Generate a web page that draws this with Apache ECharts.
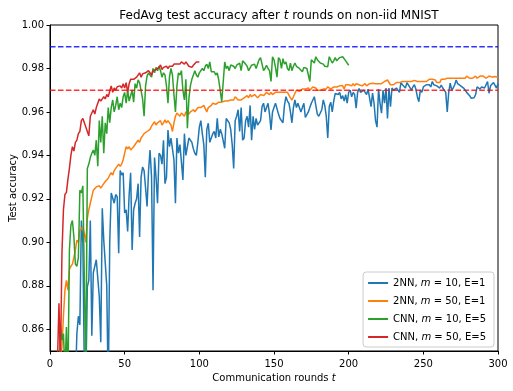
<!DOCTYPE html>
<html>
<head>
<meta charset="utf-8">
<script src="https://cdn.jsdelivr.net/npm/echarts@6.0.0/dist/echarts.min.js"></script>
<style>
html,body{margin:0;padding:0;background:#fff;}
#chart{width:513px;height:391px;}
</style>
</head>
<body>
<div id="chart"></div>
<script>
// Test accuracy per communication round (index 0 = round 1)
const blueAcc = [
0.40,0.55,0.62,0.68,0.70,0.74,0.72,0.77,0.76,0.80,
0.79,0.81,0.80,0.83,0.82,0.84,0.835,0.858,0.866,0.862,
0.910,0.900,0.840,0.835,0.8795,0.8825,0.910,0.857,0.886,0.889,
0.892,0.8925,0.875,0.854,0.9157,0.901,0.901,0.880,0.830,0.900,
0.9227,0.922,0.918,0.922,0.921,0.895,0.933,0.931,0.932,0.9135,
0.915,0.905,0.922,0.932,0.8965,0.915,0.918,0.920,0.927,0.9025,
0.930,0.9347,0.933,0.925,0.9165,0.933,0.9425,0.930,0.878,0.939,
0.930,0.918,0.941,0.940,0.936,0.947,0.927,0.930,0.9517,0.944,
0.948,0.943,0.938,0.918,0.948,0.941,0.945,0.937,0.9287,0.950,
0.940,0.944,0.948,0.9485,0.946,0.943,0.941,0.940,0.946,0.953,
0.956,0.950,0.945,0.930,0.952,0.9548,0.946,0.9455,0.950,0.951,
0.948,0.9571,0.9485,0.952,0.950,0.9495,0.9433,0.957,0.957,0.955,
0.952,0.945,0.934,0.956,0.958,0.961,0.951,0.962,0.947,0.948,
0.956,0.958,0.953,0.963,0.947,0.958,0.952,0.957,0.954,0.955,
0.956,0.9625,0.964,0.960,0.962,0.964,0.959,0.9517,0.960,0.962,
0.964,0.964,0.959,0.957,0.957,0.955,0.963,0.967,0.965,0.964,
0.960,0.955,0.962,0.9655,0.962,0.964,0.9645,0.960,0.962,0.964,
0.9575,0.957,0.960,0.962,0.964,0.9655,0.967,0.963,0.959,0.958,
0.958,0.961,0.9655,0.963,0.958,0.948,0.9625,0.9645,0.960,0.965,
0.9685,0.969,0.968,0.969,0.966,0.9675,0.965,0.968,0.964,0.969,
0.970,0.967,0.969,0.968,0.9617,0.969,0.9708,0.969,0.9685,0.970,
0.969,0.968,0.9705,0.9705,0.9624,0.9687,0.964,0.956,0.953,0.9705,
0.964,0.9594,0.970,0.964,0.971,0.957,0.971,0.9624,0.971,0.970,
0.9705,0.971,0.9716,0.969,0.9735,0.9725,0.9725,0.971,0.9735,0.9724,
0.972,0.970,0.9715,0.9725,0.9705,0.967,0.9647,0.970,0.969,0.9715,
0.971,0.9725,0.973,0.9725,0.9715,0.974,0.9725,0.9732,0.972,0.9725,
0.971,0.9724,0.971,0.970,0.969,0.960,0.969,0.9732,0.970,0.971,
0.9725,0.9747,0.973,0.9725,0.972,0.972,0.971,0.9705,0.969,0.9686,
0.9675,0.9663,0.9665,0.9665,0.968,0.9715,0.972,0.9705,0.9715,0.9716,
0.971,0.9705,0.974,0.9686,0.972,0.9725,0.9735,0.974,0.971,0.973
];
const orangeAcc = [
0.55,0.66,0.73,0.78,0.81,0.83,0.845,0.852,0.866,0.878,
0.8825,0.878,0.8875,0.889,0.890,0.893,0.8965,0.901,0.900,0.9055,
0.905,0.907,0.904,0.900,0.911,0.915,0.918,0.921,0.924,0.9235,
0.9255,0.925,0.926,0.925,0.926,0.927,0.928,0.9275,0.9295,0.931,
0.932,0.931,0.933,0.934,0.9347,0.936,0.935,0.936,0.938,0.941,
0.944,0.943,0.944,0.9425,0.942,0.944,0.945,0.945,0.947,0.946,
0.948,0.949,0.950,0.9495,0.951,0.9517,0.952,0.9535,0.953,0.9555,
0.954,0.955,0.955,0.956,0.954,0.955,0.9563,0.955,0.956,0.955,
0.954,0.951,0.955,0.958,0.9595,0.959,0.958,0.9595,0.9595,0.958,
0.960,0.9595,0.959,0.960,0.9605,0.961,0.960,0.961,0.962,0.9615,
0.962,0.9615,0.963,0.9615,0.960,0.962,0.962,0.963,0.964,0.964,
0.9635,0.964,0.9645,0.9647,0.9645,0.965,0.965,0.9655,0.965,0.9655,
0.9655,0.966,0.9655,0.967,0.967,0.9655,0.965,0.9655,0.966,0.9665,
0.966,0.9675,0.9665,0.968,0.967,0.967,0.968,0.968,0.9665,0.967,
0.968,0.968,0.9675,0.9675,0.969,0.9693,0.968,0.969,0.968,0.9685,
0.969,0.9685,0.969,0.9685,0.969,0.9685,0.969,0.9685,0.969,0.9693,
0.9665,0.9655,0.967,0.9685,0.970,0.970,0.9695,0.970,0.9705,0.970,
0.9705,0.970,0.971,0.970,0.9705,0.9715,0.971,0.971,0.970,0.9693,
0.970,0.970,0.9705,0.971,0.9705,0.9716,0.9715,0.9705,0.971,0.9715,
0.971,0.9715,0.9715,0.972,0.9715,0.972,0.9705,0.9725,0.972,0.9725,
0.9732,0.972,0.973,0.972,0.973,0.9725,0.9725,0.973,0.972,0.9725,
0.973,0.972,0.9725,0.973,0.973,0.9732,0.973,0.973,0.9725,0.973,
0.9735,0.973,0.9735,0.974,0.9745,0.9747,0.974,0.9725,0.972,0.9725,
0.973,0.9735,0.973,0.9735,0.974,0.974,0.9735,0.974,0.9745,0.974,
0.9735,0.974,0.974,0.9745,0.974,0.974,0.9735,0.974,0.9745,0.974,
0.9745,0.974,0.9745,0.975,0.9745,0.975,0.975,0.9747,0.9735,0.974,
0.9735,0.975,0.9745,0.975,0.9745,0.9755,0.975,0.9755,0.975,0.9755,
0.975,0.9755,0.9763,0.9755,0.975,0.9755,0.976,0.9755,0.9765,0.976,
0.9755,0.976,0.9755,0.9763,0.9765,0.9755,0.976,0.9765,0.976,0.9765,
0.976,0.9755,0.976,0.9765,0.976,0.976,0.9765,0.9763,0.9755,0.976
];
const greenAcc = [
0.50,0.62,0.70,0.76,0.80,0.83,0.862,0.855,0.858,0.840,
0.861,0.835,0.8965,0.908,0.910,0.9025,0.890,0.889,0.893,0.924,
0.9227,0.926,0.9255,0.840,0.934,0.936,0.939,0.941,0.9425,0.940,
0.947,0.935,0.956,0.946,0.958,0.941,0.955,0.950,0.962,0.955,
0.962,0.9655,0.960,0.963,0.967,0.961,0.964,0.962,0.967,0.969,
0.964,0.970,0.965,0.9655,0.970,0.9645,0.973,0.971,0.9747,0.9735,
0.974,0.966,0.958,0.972,0.9765,0.978,0.9785,0.976,0.980,0.978,
0.9805,0.979,0.981,0.979,0.976,0.978,0.977,0.972,0.964,0.976,
0.980,0.977,0.968,0.960,0.972,0.978,0.977,0.979,0.970,0.9655,
0.975,0.9525,0.966,0.972,0.975,0.977,0.979,0.977,0.976,0.978,
0.9775,0.980,0.979,0.981,0.982,0.980,0.983,0.9785,0.978,0.9785,
0.977,0.978,0.9747,0.975,0.9647,0.9647,0.983,0.980,0.981,0.979,
0.9816,0.9825,0.981,0.980,0.9815,0.981,0.9825,0.979,0.9835,0.9835,
0.982,0.981,0.979,0.979,0.9815,0.981,0.982,0.980,0.9805,0.984,
0.985,0.982,0.979,0.980,0.9815,0.980,0.979,0.974,0.9854,0.984,
0.9805,0.976,0.985,0.984,0.980,0.9845,0.982,0.983,0.980,0.979,
0.9825,0.979,0.981,0.9825,0.981,0.9805,0.980,0.9805,0.9785,0.9805,
0.981,0.980,0.977,0.974,0.984,0.984,0.9825,0.9854,0.984,0.984,
0.9825,0.982,0.982,0.981,0.981,0.9808,0.9854,0.985,0.9825,0.9835,
0.985,0.9835,0.984,0.985,0.9854,0.9854,0.986,0.9835,0.983,0.9815
];
const redAcc = [
0.60,0.72,0.78,0.82,0.845,0.872,0.845,0.895,0.915,0.922,
0.923,0.929,0.934,0.940,0.944,0.942,0.946,0.947,0.950,0.951,
0.956,0.957,0.955,0.955,0.951,0.949,0.958,0.9595,0.961,0.959,
0.962,0.964,0.966,0.965,0.966,0.967,0.966,0.968,0.967,0.9695,
0.972,0.969,0.971,0.970,0.9716,0.971,0.972,0.971,0.973,0.971,
0.9735,0.969,0.973,0.975,0.9755,0.975,0.9745,0.976,0.9765,0.978,
0.976,0.9775,0.977,0.978,0.9775,0.979,0.9785,0.977,0.979,0.9785,
0.9795,0.980,0.9805,0.9816,0.9795,0.9805,0.9805,0.981,0.980,0.981,
0.9815,0.981,0.982,0.9815,0.982,0.9825,0.982,0.983,0.9825,0.982,
0.983,0.9825,0.981,0.981,0.9805,0.9815,0.982,0.983,0.9839,0.983
];
const seriesNames = ['2NN, m = 10, E=1', '2NN, m = 50, E=1', 'CNN, m = 10, E=5', 'CNN, m = 50, E=5'];
const seriesColors = ['#1f77b4', '#ff7f0e', '#2ca02c', '#d62728'];
const targetAcc = [0.99, 0.97];
const targetColors = ['rgba(0,0,255,0.8)', 'rgba(255,0,0,0.8)'];
const xRange = [0, 300];
const yRange = [0.85, 1.00];
const yTicks = [0.86, 0.88, 0.90, 0.92, 0.94, 0.96, 0.98, 1.00];

const FONT = 'DejaVu Sans';
const toPairs = arr => arr.map((v, i) => [i + 1, v]);
const allSeries = [blueAcc, orangeAcc, greenAcc, redAcc];

const series = allSeries.map((arr, k) => ({
  name: seriesNames[k],
  type: 'line',
  data: toPairs(arr),
  symbol: 'none',
  showSymbol: false,
  lineStyle: { width: 1.5, color: seriesColors[k] },
  itemStyle: { color: seriesColors[k] },
  clip: true,
  z: 2 + k
}));
targetAcc.forEach((v, k) => {
  series.push({
    name: 'target' + k,
    type: 'line',
    data: [[xRange[0], v], [xRange[1], v]],
    symbol: 'none',
    lineStyle: { width: 1.5, color: targetColors[k], type: [5.55, 2.4] },
    z: 10,
    silent: true
  });
});

const chart = echarts.init(document.getElementById('chart'), null, { renderer: 'canvas' });
chart.setOption({
  animation: false,
  backgroundColor: '#fff',
  textStyle: { fontFamily: FONT },
  title: {
    text: 'FedAvg test accuracy after {i|t} rounds on non-iid MNIST',
    left: 274,
    top: 5,
    textAlign: 'center',
    textStyle: {
      fontFamily: FONT, fontSize: 12, fontWeight: 'normal', color: '#000',
      rich: { i: { fontFamily: FONT, fontStyle: 'italic', fontSize: 12, color: '#000' } }
    }
  },
  grid: {
    left: 50, right: 15, top: 25, bottom: 40,
    containLabel: false, outerBoundsMode: 'none',
    show: true, borderColor: '#000', borderWidth: 1, backgroundColor: 'transparent'
  },
  legend: {
    data: seriesNames,
    orient: 'vertical',
    right: 19,
    bottom: 44,
    itemWidth: 20,
    itemHeight: 10,
    itemGap: 8,
    padding: [6, 8, 5, 4],
    backgroundColor: 'rgba(255,255,255,0.8)',
    borderColor: '#cccccc',
    borderWidth: 1,
    borderRadius: 3,
    itemStyle: { opacity: 0 },
    lineStyle: { width: 2 },
    formatter: name => name.replace(', m =', ', {i|m} ='),
    textStyle: {
      fontFamily: FONT, fontSize: 10, color: '#000',
      rich: { i: { fontFamily: FONT, fontStyle: 'italic', fontSize: 10, color: '#000' } }
    }
  },
  xAxis: {
    type: 'value',
    min: xRange[0], max: xRange[1], interval: 50,
    name: 'Communication rounds {i|t}',
    nameLocation: 'middle',
    nameGap: 19,
    nameTextStyle: {
      fontFamily: FONT, fontSize: 10, color: '#000',
      rich: { i: { fontFamily: FONT, fontStyle: 'italic', fontSize: 10, color: '#000' } }
    },
    splitLine: { show: false },
    axisLine: { show: true, onZero: false, lineStyle: { color: '#000', width: 1 } },
    axisTick: { show: true, inside: false, length: 3.5, lineStyle: { color: '#000' } },
    axisLabel: { color: '#000', fontFamily: FONT, fontSize: 10, margin: 8 }
  },
  yAxis: {
    type: 'value',
    min: yRange[0], max: yRange[1],
    name: 'Test accuracy',
    nameLocation: 'middle',
    nameGap: 32,
    nameMoveOverlap: false,
    nameRotate: 90,
    nameTextStyle: { fontFamily: FONT, fontSize: 10, color: '#000' },
    splitLine: { show: false },
    axisLine: { show: true, onZero: false, lineStyle: { color: '#000', width: 1 } },
    axisTick: { show: true, inside: false, length: 3.5, customValues: yTicks, lineStyle: { color: '#000' } },
    axisLabel: { color: '#000', fontFamily: FONT, fontSize: 10, margin: 6, customValues: yTicks, formatter: v => v.toFixed(2) }
  },
  series: series
});
</script>
</body>
</html>
